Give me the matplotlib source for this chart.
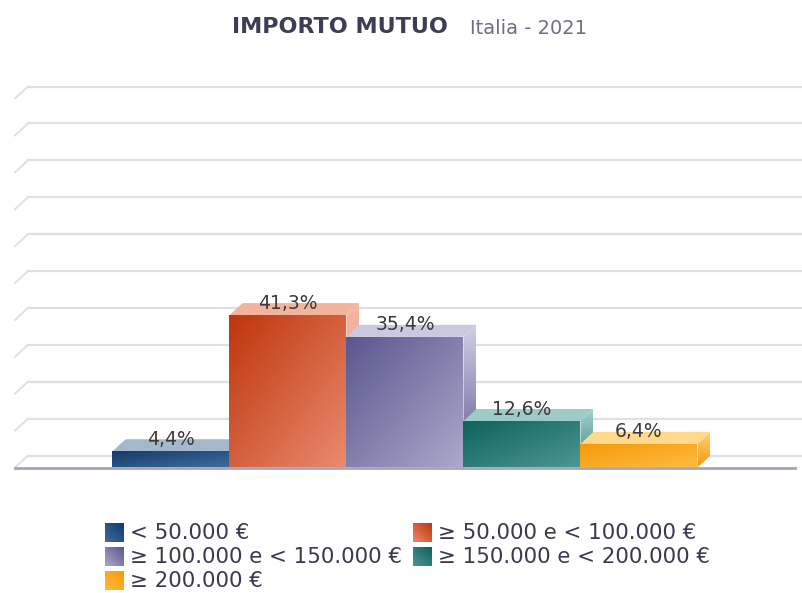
import matplotlib
matplotlib.use("Agg")
import matplotlib.pyplot as plt
import numpy as np
from matplotlib.colors import LinearSegmentedColormap
from matplotlib.patches import Polygon, Rectangle

# --- dati ---
fasce = [
    "< 50.000 €",
    "≥ 50.000 e < 100.000 €",
    "≥ 100.000 e < 150.000 €",
    "≥ 150.000 e < 200.000 €",
    "≥ 200.000 €",
]
quote = [4.4, 41.3, 35.4, 12.6, 6.4]
griglia = list(range(0, 101, 10))

# colori (scuro -> chiaro)
col_fronte = [("#14396a", "#3d6d9c"), ("#bf360c", "#e98a6e"), ("#5b578f", "#aaa8cb"),
              ("#0f625c", "#4d9692"), ("#f59a08", "#ffbb40")]
col_sopra = ["#a3b8cc", "#f3b39c", "#c9c9df", "#9dccc7", "#ffd98c"]
col_lato = [("#8ea8c2", "#2b5580"), ("#f3b7a2", "#ec9a7e"), ("#d0d0e4", "#5d5994"),
            ("#a4d0cb", "#3f8a85"), ("#ffd27a", "#f39a10")]

W, H = 803, 593
fig = plt.figure(figsize=(W / 100, H / 100), dpi=100)
fig.patch.set_facecolor("white")

# asse principale: 1 unita x = 117 px, 1% = 3.69 px
PX_X, PX_Y = 117.0, 3.69
X0, Y0 = 171.0, 467.5
ax = fig.add_axes([0, 0, 1, 1])
ax.axis("off")
DX, DY = 13 / PX_X, 12 / PX_Y


def sfuma(a, patch, c0, c1, modo="diag", z=2):
    verts = patch.get_path().vertices
    if hasattr(patch, "get_patch_transform"):
        verts = patch.get_patch_transform().transform(verts)
    x0, y0 = verts.min(axis=0)
    x1, y1 = verts.max(axis=0)
    u, t = np.meshgrid(np.linspace(0, 1, 60), np.linspace(0, 1, 60))
    val = (u + t) / 2 if modo == "diag" else t
    cmap = LinearSegmentedColormap.from_list("g", [c0, c1])
    im = a.imshow(val, extent=(x0, x1, y0, y1), origin="upper", cmap=cmap,
                  aspect="auto", interpolation="bilinear", zorder=z)
    im.set_clip_path(patch)


# griglia sul fondo
x_sx = (15 - X0) / PX_X
x_dx = (W - X0) / PX_X
for g in griglia:
    ax.plot([x_sx + DX, x_dx], [g + DY, g + DY], color="#dfdfe9", lw=1.6, zorder=1)
    ax.plot([x_sx, x_sx + DX], [g, g + DY], color="#dfdfe9", lw=1.4, zorder=1)
ax.plot([x_sx, (795 - X0) / PX_X], [0, 0], color="#a4a4bc", lw=2.0, zorder=1)

# barre 3D
pos = np.arange(len(quote))
barre = ax.bar(pos, quote, width=1.0, color="none", edgecolor="none")
for i, (x, v, r) in enumerate(zip(pos, quote, barre)):
    z = 2 + i
    l, rr = x - 0.5, x + 0.5
    lato = Polygon([(rr, 0), (rr + DX, DY), (rr + DX, v + DY), (rr, v)],
                   closed=True, facecolor="none", edgecolor="none", zorder=z)
    ax.add_patch(lato)
    sfuma(ax, lato, col_lato[i][0], col_lato[i][1], modo="vert", z=z)
    sopra = Polygon([(l, v), (rr, v), (rr + DX, v + DY), (l + DX, v + DY)],
                    closed=True, facecolor=col_sopra[i], edgecolor="none", zorder=z)
    ax.add_patch(sopra)
    r.set_zorder(z)
    sfuma(ax, r, col_fronte[i][0], col_fronte[i][1], z=z)
    ax.text(x, v + DY, f"{v:.1f}".replace(".", ",") + "%",
            ha="center", va="center", fontsize=13.5, color="#3a3a3a", zorder=20)

ax.set_xlim(-X0 / PX_X, (W - X0) / PX_X)
ax.set_ylim(-(H - Y0) / PX_Y, Y0 / PX_Y)

# livello in pixel per titolo e legenda
lay = fig.add_axes([0, 0, 1, 1], facecolor="none")
lay.axis("off")
lay.set_zorder(5)
lay.text(232, 27, "IMPORTO MUTUO", fontsize=16, fontweight="bold",
         color="#3d3d55", ha="left", va="center")
lay.text(470, 28, "Italia - 2021", fontsize=14, color="#6e6e86",
         ha="left", va="center")

leg_pos = [(105, 533), (413, 533), (105, 557), (413, 557), (105, 581)]
for i, (nome, (lx, ly)) in enumerate(zip(fasce, leg_pos)):
    sq = Rectangle((lx, ly - 10), 19, 19, facecolor="none", edgecolor="none")
    lay.add_patch(sq)
    sfuma(lay, sq, col_fronte[i][1], col_fronte[i][0], z=2)
    lay.text(lx + 25, ly, nome, fontsize=15.4, color="#3a3a4e", ha="left", va="center")

lay.set_xlim(0, W)
lay.set_ylim(H, 0)

fig.savefig("out.png", dpi=100, facecolor="white")
